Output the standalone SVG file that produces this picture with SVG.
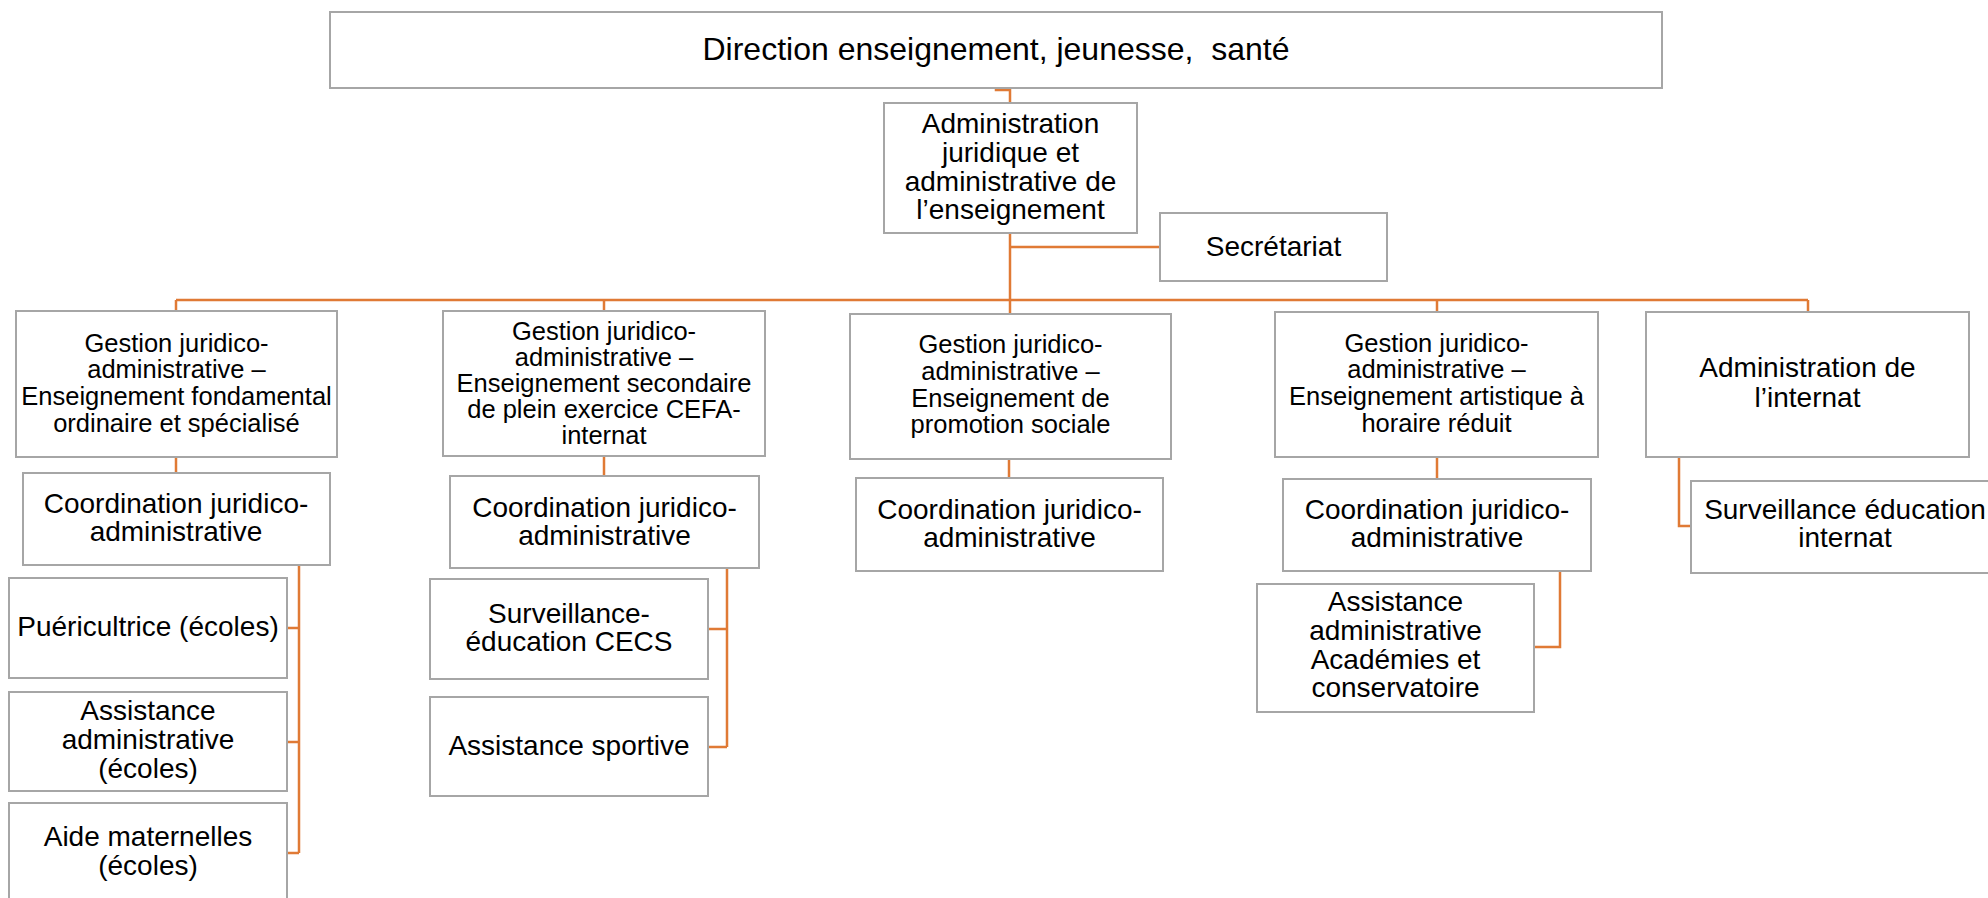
<svg xmlns="http://www.w3.org/2000/svg" width="1988" height="898" viewBox="0 0 1988 898">
<style>
.box{fill:#fff;stroke:#A6A6A6;stroke-width:2}
.t{font-family:"Liberation Sans",Arial,sans-serif;fill:#000;text-anchor:middle}
.big{font-size:32px}
.m{font-size:28px}
.g{font-size:25.5px}
.con{fill:none;stroke:#E07A35;stroke-width:2.5}
</style>
<rect width="1988" height="898" fill="#fff"/>
<g id="connectors">
<path class="con" d="M996,88 V90 H1010 V103"/>
<path class="con" d="M1010,233 V300"/>
<path class="con" d="M1010,247 H1160"/>
<path class="con" d="M176,300 H1808"/>
<path class="con" d="M176,300 V311"/>
<path class="con" d="M604,300 V311"/>
<path class="con" d="M1010,300 V314"/>
<path class="con" d="M1437,300 V312"/>
<path class="con" d="M1808,300 V312"/>
<path class="con" d="M176,457 V473"/>
<path class="con" d="M604,456 V476"/>
<path class="con" d="M1009,459 V478"/>
<path class="con" d="M1437,457 V479"/>
<path class="con" d="M1679,457 V526 H1691"/>
<path class="con" d="M299,565 V853 M299,628 H287 M299,742 H287 M299,853 H287"/>
<path class="con" d="M727,568 V747 M727,629 H708 M727,747 H708"/>
<path class="con" d="M1560,571 V647 H1534"/>
</g>
<g id="direction">
<rect class="box" x="330" y="12" width="1332" height="76"/>
<text class="t big" x="996" y="60" xml:space="preserve">Direction enseignement, jeunesse,  santé</text>
</g>
<g id="admin">
<rect class="box" x="884" y="103" width="253" height="130"/>
<text class="t m"><tspan x="1010.5" y="132.7">Administration</tspan><tspan x="1010.5" y="161.7">juridique et</tspan><tspan x="1010.5" y="190.7">administrative de</tspan><tspan x="1010.5" y="219.3">l’enseignement</tspan></text>
</g>
<g id="secretariat">
<rect class="box" x="1160" y="213" width="227" height="68"/>
<text class="t m" x="1273.5" y="256">Secrétariat</text>
</g>
<g id="gestion-fondamental">
<rect class="box" x="16" y="311" width="321" height="146"/>
<text class="t g"><tspan x="176.5" y="351.7">Gestion juridico-</tspan><tspan x="176.5" y="378.3">administrative –</tspan><tspan x="176.5" y="405">Enseignement fondamental</tspan><tspan x="176.5" y="431.7">ordinaire et spécialisé</tspan></text>
</g>
<g id="gestion-secondaire">
<rect class="box" x="443" y="311" width="322" height="145"/>
<text class="t g"><tspan x="604" y="340">Gestion juridico-</tspan><tspan x="604" y="366">administrative –</tspan><tspan x="604" y="392">Enseignement secondaire</tspan><tspan x="604" y="418.3">de plein exercice CEFA-</tspan><tspan x="604" y="444.3">internat</tspan></text>
</g>
<g id="gestion-promotion">
<rect class="box" x="850" y="314" width="321" height="145"/>
<text class="t g"><tspan x="1010.5" y="353.3">Gestion juridico-</tspan><tspan x="1010.5" y="380">administrative –</tspan><tspan x="1010.5" y="406.7">Enseignement de</tspan><tspan x="1010.5" y="433.3">promotion sociale</tspan></text>
</g>
<g id="gestion-artistique">
<rect class="box" x="1275" y="312" width="323" height="145"/>
<text class="t g"><tspan x="1436.5" y="351.7">Gestion juridico-</tspan><tspan x="1436.5" y="378.3">administrative –</tspan><tspan x="1436.5" y="405">Enseignement artistique à</tspan><tspan x="1436.5" y="431.7">horaire réduit</tspan></text>
</g>
<g id="admin-internat">
<rect class="box" x="1646" y="312" width="323" height="145"/>
<text class="t m"><tspan x="1807.5" y="377.3">Administration de</tspan><tspan x="1807.5" y="406.7">l’internat</tspan></text>
</g>
<g id="coord1">
<rect class="box" x="23" y="473" width="307" height="92"/>
<text class="t m"><tspan x="176" y="513">Coordination juridico-</tspan><tspan x="176" y="541">administrative</tspan></text>
</g>
<g id="coord2">
<rect class="box" x="450" y="476" width="309" height="92"/>
<text class="t m"><tspan x="604.5" y="516.7">Coordination juridico-</tspan><tspan x="604.5" y="545">administrative</tspan></text>
</g>
<g id="coord3">
<rect class="box" x="856" y="478" width="307" height="93"/>
<text class="t m"><tspan x="1009.5" y="519.3">Coordination juridico-</tspan><tspan x="1009.5" y="546.7">administrative</tspan></text>
</g>
<g id="coord4">
<rect class="box" x="1283" y="479" width="308" height="92"/>
<text class="t m"><tspan x="1437" y="519.3">Coordination juridico-</tspan><tspan x="1437" y="547.3">administrative</tspan></text>
</g>
<g id="surveillance-internat">
<rect class="box" x="1691" y="481" width="308" height="92"/>
<text class="t m"><tspan x="1845" y="519.3">Surveillance éducation</tspan><tspan x="1845" y="547.3">internat</tspan></text>
</g>
<g id="puericultrice">
<rect class="box" x="9" y="578" width="278" height="100"/>
<text class="t m" x="148" y="636">Puéricultrice (écoles)</text>
</g>
<g id="assistance-ecoles">
<rect class="box" x="9" y="692" width="278" height="99"/>
<text class="t m"><tspan x="148" y="720">Assistance</tspan><tspan x="148" y="749.3">administrative</tspan><tspan x="148" y="778.3">(écoles)</tspan></text>
</g>
<g id="aide-maternelles">
<rect class="box" x="9" y="803" width="278" height="105"/>
<text class="t m"><tspan x="148" y="846">Aide maternelles</tspan><tspan x="148" y="875">(écoles)</tspan></text>
</g>
<g id="surveillance-cecs">
<rect class="box" x="430" y="579" width="278" height="100"/>
<text class="t m"><tspan x="569" y="622.7">Surveillance-</tspan><tspan x="569" y="651">éducation CECS</tspan></text>
</g>
<g id="assistance-sportive">
<rect class="box" x="430" y="697" width="278" height="99"/>
<text class="t m" x="569" y="755">Assistance sportive</text>
</g>
<g id="assistance-academies">
<rect class="box" x="1257" y="584" width="277" height="128"/>
<text class="t m"><tspan x="1395.5" y="610.7">Assistance</tspan><tspan x="1395.5" y="640">administrative</tspan><tspan x="1395.5" y="669">Académies et</tspan><tspan x="1395.5" y="697.3">conservatoire</tspan></text>
</g>
</svg>
